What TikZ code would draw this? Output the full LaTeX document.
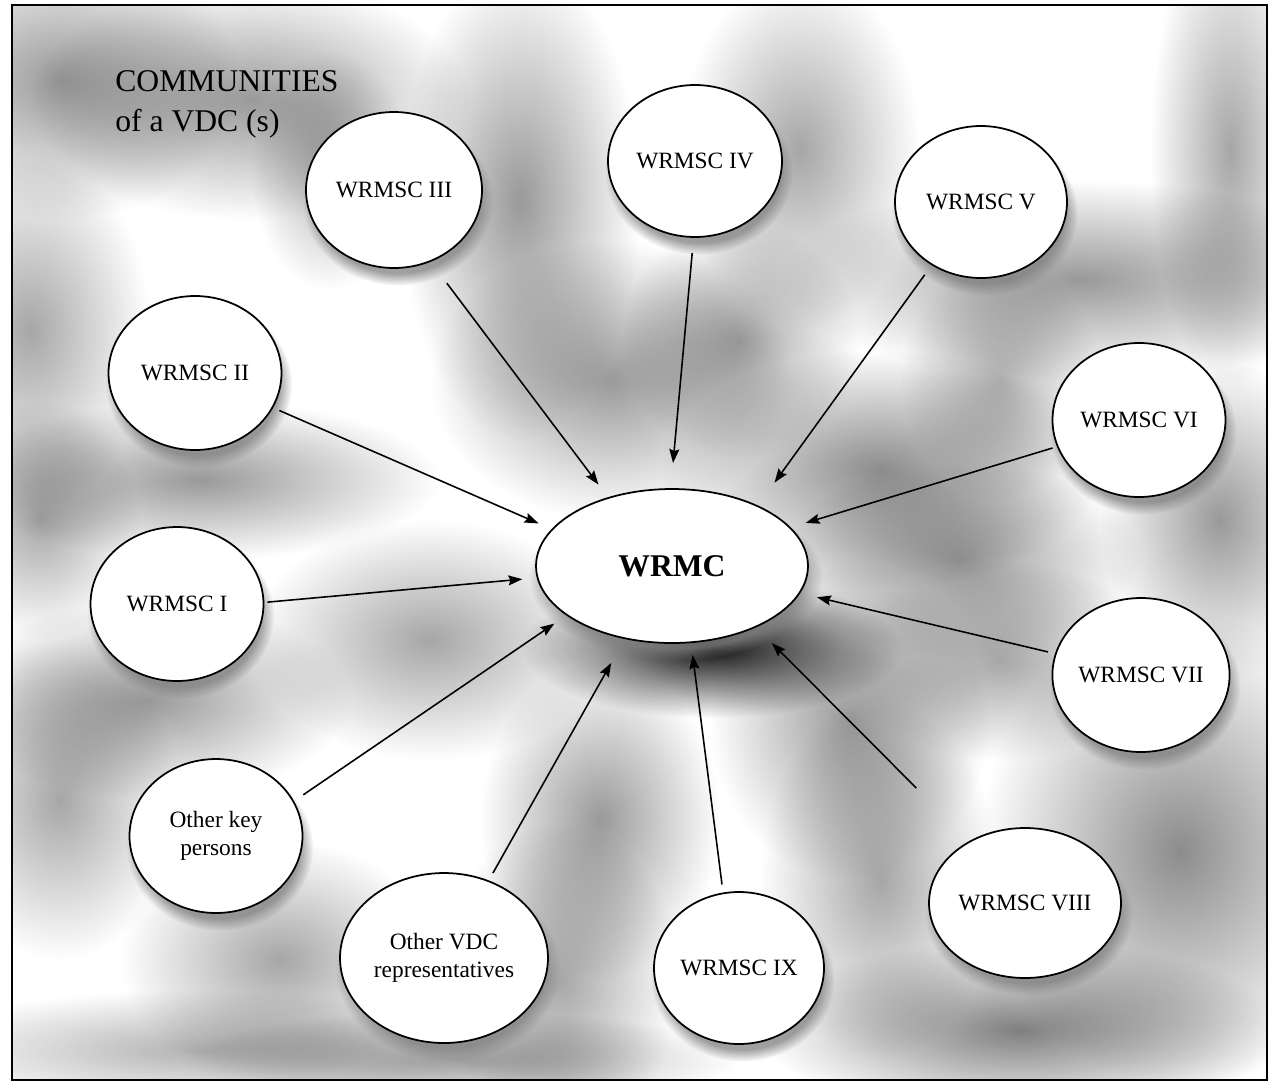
\documentclass[tikz,border=0pt]{standalone}
\usepackage{fontspec}
\setmainfont{Liberation Serif}
\usetikzlibrary{shapes.geometric,arrows.meta,shadows,fadings}

% soft round fading used for the mottled grey background
\tikzfading[name=softblob, inner color=transparent!0, outer color=transparent!100]

% grey cloud: centre x, centre y, visible radii a and b, opacity
\newcommand\cloudblob[5]{%
  \fill[black, fill opacity=#5, path fading=softblob]
    (#1,#2) ellipse [x radius={2*#3}, y radius={2*#4}];}

\begin{document}
\begin{tikzpicture}[x=0.02cm, y=-0.02cm,
  sub/.style={ellipse, draw=black, line width=1pt, fill=white,
    inner sep=0pt, outer sep=0pt,
    minimum width=3.46cm, minimum height=3.08cm, align=center,
    font=\fontsize{13.3}{16}\selectfont,
    circular drop shadow={shadow xshift=2pt, shadow yshift=-6pt,
      shadow scale=1.08, opacity=0.75}},
  hub/.style={sub, minimum width=5.44cm, minimum height=3.08cm,
    font=\fontsize{18}{21}\selectfont\bfseries},
  feed/.style={line width=0.9pt,
    -{Stealth[length=0.28cm,width=0.2cm,inset=0.04cm]}},
]
\useasboundingbox (0,0) rectangle (1272,1083);

% ---- mottled background inside the frame ----
\begin{scope}
  \clip (12,5) rectangle (1267,1080);
  \cloudblob{60}{80}{90}{70}{0.40}
  \cloudblob{250}{100}{110}{60}{0.40}
  \cloudblob{330}{170}{40}{60}{0.30}
  \cloudblob{520}{200}{60}{120}{0.40}
  \cloudblob{610}{380}{90}{70}{0.40}
  \cloudblob{740}{340}{60}{60}{0.35}
  \cloudblob{800}{150}{60}{90}{0.35}
  \cloudblob{1080}{280}{150}{50}{0.40}
  \cloudblob{1230}{150}{40}{120}{0.35}
  \cloudblob{1000}{380}{50}{60}{0.30}
  \cloudblob{880}{470}{110}{60}{0.45}
  \cloudblob{1220}{520}{60}{80}{0.40}
  \cloudblob{960}{560}{90}{50}{0.40}
  \cloudblob{30}{330}{60}{90}{0.35}
  \cloudblob{200}{480}{120}{40}{0.40}
  \cloudblob{40}{520}{50}{60}{0.35}
  \cloudblob{150}{700}{100}{50}{0.40}
  \cloudblob{430}{640}{90}{60}{0.35}
  \cloudblob{600}{820}{60}{80}{0.40}
  \cloudblob{850}{720}{70}{80}{0.40}
  \cloudblob{1000}{660}{80}{50}{0.35}
  \cloudblob{1180}{850}{100}{120}{0.45}
  \cloudblob{1020}{1030}{130}{45}{0.50}
  \cloudblob{880}{880}{60}{90}{0.35}
  \cloudblob{280}{960}{80}{60}{0.35}
  \cloudblob{60}{800}{60}{80}{0.35}
  \cloudblob{560}{980}{60}{80}{0.35}
  \cloudblob{200}{1050}{150}{30}{0.30}
  \cloudblob{460}{1060}{140}{25}{0.35}
  % dark shadow under the central ellipse
  \cloudblob{712}{648}{95}{35}{0.95}
\end{scope}

% ---- committees ----
\node[sub] (s1) at (177,604) {WRMSC I};
\node[sub] (s2) at (195,373) {WRMSC II};
\node[sub, minimum width=3.52cm, minimum height=3.12cm] (s3) at (394,190) {WRMSC III};
\node[sub, minimum width=3.48cm, minimum height=3.04cm] (s4) at (695,161) {WRMSC IV};
\node[sub, minimum width=3.44cm, minimum height=3.04cm] (s5) at (981,202) {WRMSC V};
\node[sub] (s6) at (1139,420) {WRMSC VI};
\node[sub] (s7) at (1141,675) {WRMSC VII};
\node[sub, minimum width=3.84cm, minimum height=3.0cm] (s8) at (1025,903) {WRMSC VIII};
\node[sub, minimum width=3.4cm, minimum height=3.04cm] (s9) at (739,968) {WRMSC IX};
\node[sub] (okp) at (216,836) {Other key\\persons};
\node[sub, minimum width=4.16cm, minimum height=3.4cm] (ovdc) at (444,958) {Other VDC\\representatives};
\node[hub] (wrmc) at (672,566) {WRMC};

% ---- title ----
\node[anchor=north west, align=left, inner sep=0pt,
  font=\fontsize{18}{22.7}\selectfont] (title) at (115,70) {COMMUNITIES\\of a VDC (s)};

% ---- connectors into the central committee ----
\draw[feed, shorten <=0.554cm, shorten >=0.334cm] (s3.297.3) -- (wrmc.133.9);
\draw[feed, shorten <=0.322cm, shorten >=0.522cm] (s4.269.6) -- (wrmc.91.1);
\draw[feed, shorten <=0.254cm, shorten >=0.58cm] (s5.232.3) -- (wrmc.35.9);
\draw[feed, shorten <=0.152cm, shorten >=0.30cm] (s2.336.5) -- (wrmc.163.9);
\draw[feed, shorten <=0.08cm, shorten >=0.306cm] (s1.1.1) -- (wrmc.185.8);
\draw[feed, shorten <=0.24cm, shorten >=0.306cm] (okp.24) -- (wrmc.205.3);
\draw[feed, shorten <=0.186cm, shorten >=0.564cm] (ovdc.60) -- (wrmc.237.6);
\draw[feed, shorten <=0.18cm, shorten >=0.258cm] (s9.102.8) -- (wrmc.284.3);
\draw[feed, shorten <=1.516cm, shorten >=0.46cm] (s8.132.3) -- (wrmc.324.1);
\draw[feed, shorten <=0.162cm, shorten >=0.364cm] (s7.166.4) -- (wrmc.348.7);
\draw[feed, shorten <=0.108cm, shorten >=0.33cm] (s6.198.2) -- (wrmc.18.5);

% ---- frame ----
\draw[line width=1.4pt] (12,5) rectangle (1267,1080);
\end{tikzpicture}
\end{document}
